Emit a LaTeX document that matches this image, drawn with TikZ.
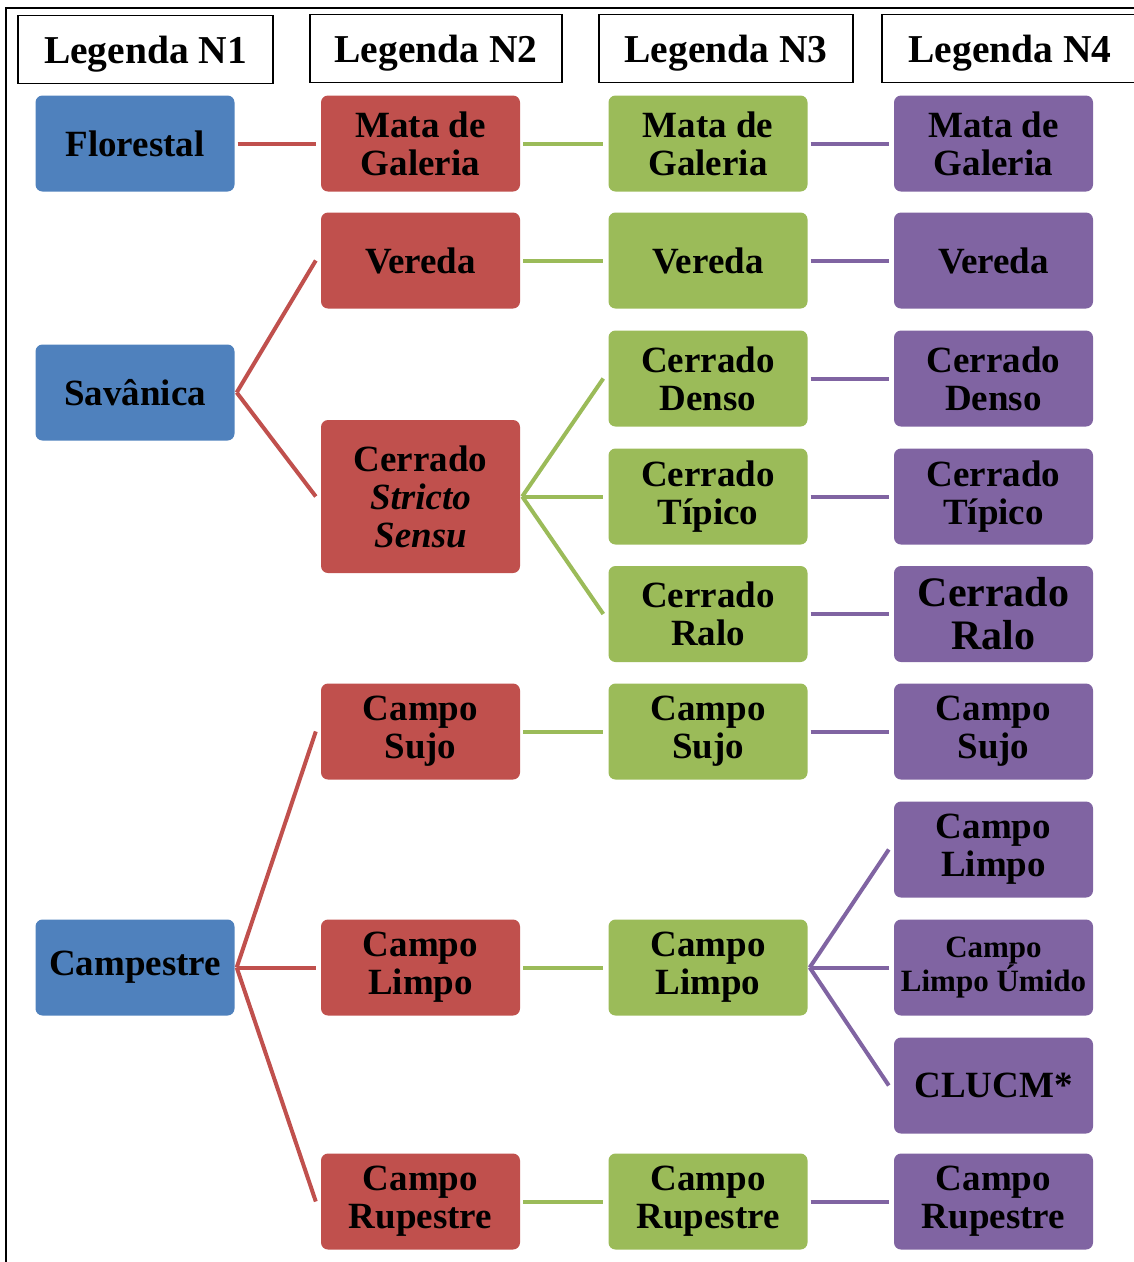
\documentclass[tikz,border=0pt]{standalone}
\usepackage{fontspec}
\setmainfont{Liberation Serif}
\definecolor{lvA}{HTML}{4F81BD}
\definecolor{lvB}{HTML}{C0504D}
\definecolor{lvC}{HTML}{9BBB59}
\definecolor{lvD}{HTML}{8064A2}
\begin{document}
\begin{tikzpicture}[x=1pt,y=-1pt,
  box/.style={rounded corners=7pt, minimum width=199pt, minimum height=96pt,
    inner sep=0pt, align=center, text=black,
    font=\fontsize{37}{38}\selectfont\bfseries},
  boxA/.style={box, fill=lvA},
  boxB/.style={box, fill=lvB},
  boxC/.style={box, fill=lvC},
  boxD/.style={box, fill=lvD},
  hdr/.style={draw=black, line width=1.4pt, fill=white, inner sep=0pt,
    minimum height=68pt, text depth=0pt,
    font=\fontsize{39.5}{40}\selectfont\bfseries},
  lnB/.style={draw=lvB, line width=4pt},
  lnC/.style={draw=lvC, line width=4pt},
  lnD/.style={draw=lvD, line width=4pt},
]
\useasboundingbox (0,0) rectangle (1134,1262);
\clip (0,0) rectangle (1134,1262);

% outer frame (left and top edges)
\draw[line width=2.5pt] (6,1270) -- (6,8) -- (1140,8);

% column headers
\node[hdr, minimum width=255pt] (h1) at (145.5,49.5) {Legenda N1};
\node[hdr, minimum width=252pt] (h2) at (436,48.5) {Legenda N2};
\node[hdr, minimum width=254pt] (h3) at (726,48.5) {Legenda N3};
\node[hdr, minimum width=256pt] (h4) at (1010,48.5) {Legenda N4};

% level 1
\node[boxA] (flo) at (135,143.5) {Florestal};
\node[boxA] (sav) at (135,392.5) {Savânica};
\node[boxA] (cam) at (135,967.5) {Campestre};

% level 2
\node[boxB] (b1) at (420.5,143.5) {Mata de\\Galeria};
\node[boxB] (b2) at (420.5,260.5) {Vereda};
\node[boxB, minimum height=153pt] (b3) at (420.5,496.5) {Cerrado\\\textit{Stricto}\\\textit{Sensu}};
\node[boxB] (b4) at (420.5,731.5) {Campo\\Sujo};
\node[boxB] (b5) at (420.5,967.5) {Campo\\Limpo};
\node[boxB] (b6) at (420.5,1201.5) {Campo\\Rupestre};

% level 3
\node[boxC] (c1) at (708,143.5) {Mata de\\Galeria};
\node[boxC] (c2) at (708,260.5) {Vereda};
\node[boxC] (c3) at (708,378.5) {Cerrado\\Denso};
\node[boxC] (c4) at (708,496.5) {Cerrado\\Típico};
\node[boxC] (c5) at (708,614) {Cerrado\\Ralo};
\node[boxC] (c6) at (708,731.5) {Campo\\Sujo};
\node[boxC] (c7) at (708,967.5) {Campo\\Limpo};
\node[boxC] (c8) at (708,1201.5) {Campo\\Rupestre};

% level 4
\node[boxD] (d1) at (993.5,143.5) {Mata de\\Galeria};
\node[boxD] (d2) at (993.5,260.5) {Vereda};
\node[boxD] (d3) at (993.5,378.5) {Cerrado\\Denso};
\node[boxD] (d4) at (993.5,496.5) {Cerrado\\Típico};
\node[boxD, font=\fontsize{42}{43}\selectfont\bfseries] (d5) at (993.5,614) {Cerrado\\Ralo};
\node[boxD] (d6) at (993.5,731.5) {Campo\\Sujo};
\node[boxD] (d7) at (993.5,849.5) {Campo\\Limpo};
\node[boxD, font=\fontsize{31}{34}\selectfont\bfseries] (d8) at (993.5,967.5) {Campo\\Limpo Úmido};
\node[boxD] (d9) at (993.5,1085.5) {CLUCM*};
\node[boxD] (d10) at (993.5,1201.5) {Campo\\Rupestre};

% level 1 -> level 2
\draw[lnB] ([xshift=3pt]flo.east) -- ([xshift=-5pt]b1.west);
\draw[lnB] ([xshift=2pt]sav.east) -- ([xshift=-5pt]b2.west);
\draw[lnB] ([xshift=2pt]sav.east) -- ([xshift=-5pt]b3.west);
\draw[lnB] ([xshift=2pt]cam.east) -- ([xshift=-5pt]b4.west);
\draw[lnB] ([xshift=2pt]cam.east) -- ([xshift=-5pt]b5.west);
\draw[lnB] ([xshift=2pt]cam.east) -- ([xshift=-5pt]b6.west);

% level 2 -> level 3
\draw[lnC] ([xshift=3pt]b1.east) -- ([xshift=-5pt]c1.west);
\draw[lnC] ([xshift=3pt]b2.east) -- ([xshift=-5pt]c2.west);
\draw[lnC] ([xshift=2pt]b3.east) -- ([xshift=-5pt]c3.west);
\draw[lnC] ([xshift=2pt]b3.east) -- ([xshift=-5pt]c4.west);
\draw[lnC] ([xshift=2pt]b3.east) -- ([xshift=-5pt]c5.west);
\draw[lnC] ([xshift=3pt]b4.east) -- ([xshift=-5pt]c6.west);
\draw[lnC] ([xshift=3pt]b5.east) -- ([xshift=-5pt]c7.west);
\draw[lnC] ([xshift=3pt]b6.east) -- ([xshift=-5pt]c8.west);

% level 3 -> level 4
\draw[lnD] ([xshift=3pt]c1.east) -- ([xshift=-5pt]d1.west);
\draw[lnD] ([xshift=3pt]c2.east) -- ([xshift=-5pt]d2.west);
\draw[lnD] ([xshift=3pt]c3.east) -- ([xshift=-5pt]d3.west);
\draw[lnD] ([xshift=3pt]c4.east) -- ([xshift=-5pt]d4.west);
\draw[lnD] ([xshift=3pt]c5.east) -- ([xshift=-5pt]d5.west);
\draw[lnD] ([xshift=3pt]c6.east) -- ([xshift=-5pt]d6.west);
\draw[lnD] ([xshift=2pt]c7.east) -- ([xshift=-5pt]d7.west);
\draw[lnD] ([xshift=2pt]c7.east) -- ([xshift=-5pt]d8.west);
\draw[lnD] ([xshift=2pt]c7.east) -- ([xshift=-5pt]d9.west);
\draw[lnD] ([xshift=3pt]c8.east) -- ([xshift=-5pt]d10.west);
\end{tikzpicture}
\end{document}
